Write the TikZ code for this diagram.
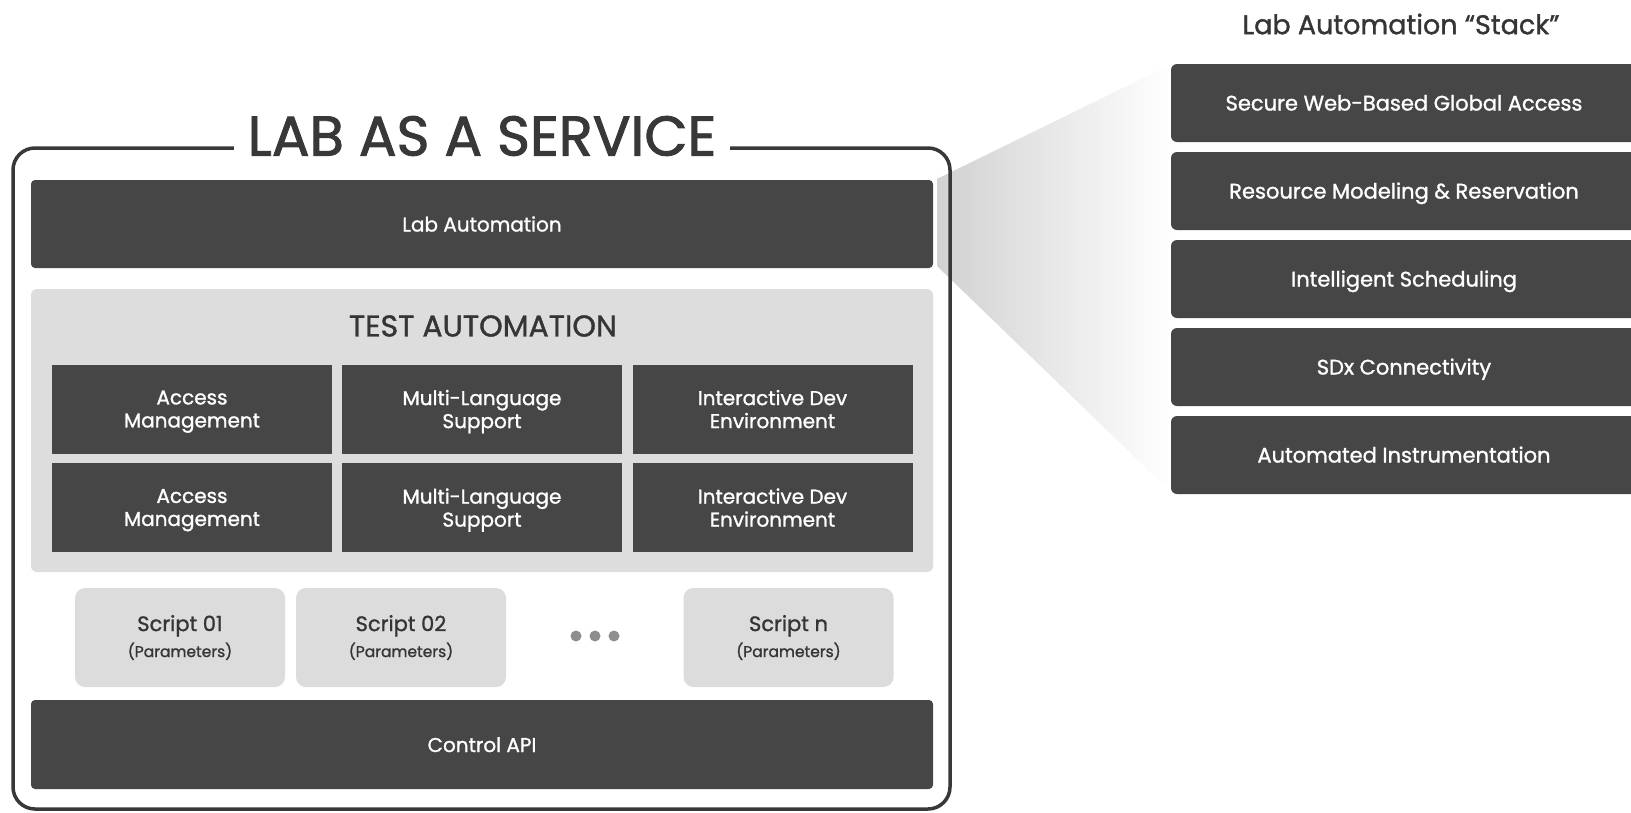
\documentclass[tikz,border=0pt]{standalone}
\usepackage{fontspec}
\setmainfont{Poppins}
\newfontfamily\med{Poppins}[FakeBold=1.2]
\newfontfamily\heavy{Poppins}[FakeBold=1.6]
\definecolor{dark}{HTML}{464646}
\definecolor{panel}{HTML}{DDDDDD}
\definecolor{scriptbg}{HTML}{DCDCDC}
\definecolor{ink}{HTML}{353535}
\definecolor{dotc}{HTML}{8E8E8E}
\definecolor{border}{HTML}{383838}
\begin{document}
\begin{tikzpicture}[x=1pt,y=-1pt,
  darkbar/.style={fill=dark, rounded corners=4pt, text=white, inner sep=0pt,
    font=\med\fontsize{20}{24}\selectfont, text height=15pt, text depth=0pt},
  cell/.style={fill=dark, text=white, inner sep=0pt, align=center,
    minimum width=280pt, minimum height=89pt,
    font=\med\fontsize{20}{23}\selectfont, text depth=0pt},
  stackbox/.style={fill=dark, rounded corners=6pt, text=white, inner sep=0pt,
    minimum width=466pt, minimum height=78pt,
    font=\med\fontsize{21}{25}\selectfont, text height=15pt, text depth=0pt},
  scriptbox/.style={fill=scriptbg, rounded corners=10pt, text=ink, inner sep=0pt,
    align=center, minimum width=210pt, minimum height=99pt, font=\med},
  dotn/.style={circle, fill=dotc, inner sep=0pt, minimum size=11pt}
]
\useasboundingbox (0,0) rectangle (1631,812);
\clip (0,0) rectangle (1631,812);
\fill[white] (0,0) rectangle (1631,812);

% funnel
\shade[left color=black!18, right color=white] (937,179) -- (1172,64) -- (1172,493) -- (937,266) -- cycle;

% outer box
\draw[border, line width=3.5pt, rounded corners=22pt] (13,148) rectangle (950,809);
\node[fill=white, inner xsep=14pt, inner ysep=0pt, text=border,
  font=\heavy\fontsize{56}{60}\selectfont] (title) at (482,136) {LAB AS A SERVICE};

% lab automation bar
\node[darkbar, minimum width=902pt, minimum height=88pt] (lab) at (482,224) {Lab Automation};

% test automation panel
\node[fill=panel, rounded corners=6pt, minimum width=902pt, minimum height=283pt, inner sep=0pt] (test) at (482,430.5) {};
\node[text=ink, inner sep=0pt, font=\med\fontsize{30}{34}\selectfont] (testtitle) at (483,326) {TEST AUTOMATION};

\node[cell] (c11) at (192,409) {Access\\Management};
\node[cell] (c12) at (482,409) {Multi-Language\\Support};
\node[cell] (c13) at (772.5,409) {Interactive Dev\\Environment};
\node[cell] (c21) at (192,507.5) {Access\\Management};
\node[cell] (c22) at (482,507.5) {Multi-Language\\Support};
\node[cell] (c23) at (772.5,507.5) {Interactive Dev\\Environment};

% scripts
\node[scriptbox] (s1) at (180,637.5) {{\fontsize{21}{26}\selectfont Script 01}\\[5pt]{\fontsize{15.5}{18}\selectfont (Parameters)}};
\node[scriptbox] (s2) at (401,637.5) {{\fontsize{21}{26}\selectfont Script 02}\\[5pt]{\fontsize{15.5}{18}\selectfont (Parameters)}};
\node[scriptbox] (sn) at (788.5,637.5) {{\fontsize{21}{26}\selectfont Script n}\\[5pt]{\fontsize{15.5}{18}\selectfont (Parameters)}};
\node[dotn] (d1) at (576,636) {};
\node[dotn] (d2) at (595,636) {};
\node[dotn] (d3) at (614,636) {};

% control API
\node[darkbar, minimum width=902pt, minimum height=89pt] (api) at (482,744.5) {Control API};

% stack
\node[text=ink, inner sep=0pt, font=\med\fontsize{27}{32}\selectfont] (stacktitle) at (1401,24) {Lab Automation “Stack”};
\node[stackbox] (k1) at (1404,103) {Secure Web-Based Global Access};
\node[stackbox] (k2) at (1404,191) {Resource Modeling \& Reservation};
\node[stackbox] (k3) at (1404,279) {Intelligent Scheduling};
\node[stackbox] (k4) at (1404,367) {SDx Connectivity};
\node[stackbox] (k5) at (1404,455) {Automated Instrumentation};
\end{tikzpicture}
\end{document}
